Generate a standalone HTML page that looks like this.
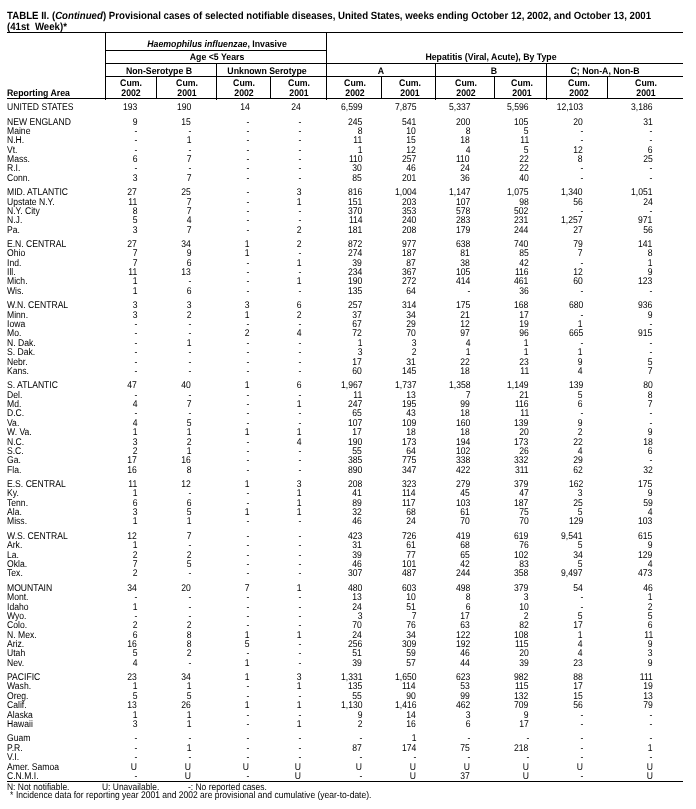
<!DOCTYPE html>
<html><head><meta charset="utf-8"><title>TABLE II</title>
<style>
html,body{margin:0;padding:0;background:#fff;}
body{width:696px;height:809px;position:relative;overflow:hidden;font-family:"Liberation Sans",sans-serif;color:#000;}
#pg{position:absolute;left:0;top:0;width:696px;height:809px;will-change:transform;}
.t{position:absolute;white-space:nowrap;line-height:14px;text-rendering:geometricPrecision;}
.r{position:absolute;left:0;width:696px;height:14px;}
.hl{position:absolute;height:1px;background:#000;}
.vl{position:absolute;width:1px;background:#000;}
.body{font-size:9.8px;font-weight:normal;}
.body.L{transform:scaleX(0.8776);transform-origin:0 50%;}
.body.R{transform:scaleX(0.8776);transform-origin:100% 50%;}
.body.C{transform:translateX(-50%) scaleX(0.8776);transform-origin:50% 50%;}
.f1{font-size:9.63px;font-weight:normal;}
.f1.L{transform:scaleX(0.8775);transform-origin:0 50%;}
.f1.R{transform:scaleX(0.8775);transform-origin:100% 50%;}
.f1.C{transform:translateX(-50%) scaleX(0.8775);transform-origin:50% 50%;}
.f2{font-size:9.71px;font-weight:normal;}
.f2.L{transform:scaleX(0.8774);transform-origin:0 50%;}
.f2.R{transform:scaleX(0.8774);transform-origin:100% 50%;}
.f2.C{transform:translateX(-50%) scaleX(0.8774);transform-origin:50% 50%;}
.hdr{font-size:9.5px;font-weight:bold;}
.hdr.L{transform:scaleX(0.9211);transform-origin:0 50%;}
.hdr.R{transform:scaleX(0.9211);transform-origin:100% 50%;}
.hdr.C{transform:translateX(-50%) scaleX(0.9211);transform-origin:50% 50%;}
.ttl{font-size:10.5px;font-weight:bold;}
.ttl.L{transform:scaleX(0.92);transform-origin:0 50%;}
.ttl.R{transform:scaleX(0.92);transform-origin:100% 50%;}
.ttl.C{transform:translateX(-50%) scaleX(0.92);transform-origin:50% 50%;}
</style></head><body><div id="pg">
<div class="t ttl L" style="left:7px;top:9px">TABLE II. (<i>Continued</i>) Provisional cases of selected notifiable diseases, United States, weeks ending October 12, 2002, and October 13, 2001</div>
<div class="t ttl L" style="left:7px;top:20px">(41st&nbsp; Week)*</div>
<div class="hl" style="top:32px;left:7px;width:676px"></div>
<div class="hl" style="top:50px;left:105px;width:222px"></div>
<div class="hl" style="top:63px;left:105px;width:578px"></div>
<div class="hl" style="top:76px;left:105px;width:578px"></div>
<div class="hl" style="top:98px;left:7px;width:676px"></div>
<div class="hl" style="top:781px;left:7px;width:676px"></div>
<div class="vl" style="left:105px;top:32px;height:68px"></div>
<div class="vl" style="left:156px;top:76px;height:22px"></div>
<div class="vl" style="left:216px;top:63px;height:37px"></div>
<div class="vl" style="left:270px;top:76px;height:22px"></div>
<div class="vl" style="left:326px;top:32px;height:68px"></div>
<div class="vl" style="left:381px;top:76px;height:22px"></div>
<div class="vl" style="left:435px;top:63px;height:37px"></div>
<div class="vl" style="left:494px;top:76px;height:22px"></div>
<div class="vl" style="left:546px;top:63px;height:37px"></div>
<div class="vl" style="left:607px;top:76px;height:22px"></div>
<div class="t hdr C" style="left:216.75px;top:38px"><i>Haemophilus influenzae</i>, Invasive</div>
<div class="t hdr C" style="left:216.5px;top:51px">Age &lt;5 Years</div>
<div class="t hdr C" style="left:158.75px;top:65px">Non-Serotype B</div>
<div class="t hdr C" style="left:267px;top:65px">Unknown Serotype</div>
<div class="t hdr C" style="left:490.75px;top:51px">Hepatitis (Viral, Acute), By Type</div>
<div class="t hdr C" style="left:381px;top:65px">A</div>
<div class="t hdr C" style="left:493.5px;top:65px">B</div>
<div class="t hdr C" style="left:605px;top:65px">C; Non-A, Non-B</div>
<div class="t hdr C" style="left:130.75px;top:77px">Cum.</div>
<div class="t hdr C" style="left:130.75px;top:87px">2002</div>
<div class="t hdr C" style="left:186.75px;top:77px">Cum.</div>
<div class="t hdr C" style="left:186.75px;top:87px">2001</div>
<div class="t hdr C" style="left:243.5px;top:77px">Cum.</div>
<div class="t hdr C" style="left:243.5px;top:87px">2002</div>
<div class="t hdr C" style="left:299.2px;top:77px">Cum.</div>
<div class="t hdr C" style="left:299.2px;top:87px">2001</div>
<div class="t hdr C" style="left:355.1px;top:77px">Cum.</div>
<div class="t hdr C" style="left:355.1px;top:87px">2002</div>
<div class="t hdr C" style="left:410.25px;top:77px">Cum.</div>
<div class="t hdr C" style="left:410.25px;top:87px">2001</div>
<div class="t hdr C" style="left:466px;top:77px">Cum.</div>
<div class="t hdr C" style="left:466px;top:87px">2002</div>
<div class="t hdr C" style="left:522.25px;top:77px">Cum.</div>
<div class="t hdr C" style="left:522.25px;top:87px">2001</div>
<div class="t hdr C" style="left:578.5px;top:77px">Cum.</div>
<div class="t hdr C" style="left:578.5px;top:87px">2002</div>
<div class="t hdr C" style="left:645.75px;top:77px">Cum.</div>
<div class="t hdr C" style="left:645.75px;top:87px">2001</div>
<div class="t hdr L" style="left:7px;top:87px">Reporting Area</div>
<div class="r" style="top:101px"><span class="t body L" style="left:7px;top:0">UNITED STATES</span><span class="t body R" style="right:559px;top:0">193</span><span class="t body R" style="right:505px;top:0">190</span><span class="t body R" style="right:446.6px;top:0">14</span><span class="t body R" style="right:395px;top:0">24</span><span class="t body R" style="right:333.7px;top:0">6,599</span><span class="t body R" style="right:279.9px;top:0">7,875</span><span class="t body R" style="right:225.9px;top:0">5,337</span><span class="t body R" style="right:167.2px;top:0">5,596</span><span class="t body R" style="right:113.1px;top:0">12,103</span><span class="t body R" style="right:43.3px;top:0">3,186</span></div>
<div class="r" style="top:116px"><span class="t body L" style="left:7px;top:0">NEW ENGLAND</span><span class="t body R" style="right:559px;top:0">9</span><span class="t body R" style="right:505px;top:0">15</span><span class="t body R" style="right:446.6px;top:0">-</span><span class="t body R" style="right:395px;top:0">-</span><span class="t body R" style="right:333.7px;top:0">245</span><span class="t body R" style="right:279.9px;top:0">541</span><span class="t body R" style="right:225.9px;top:0">200</span><span class="t body R" style="right:167.2px;top:0">105</span><span class="t body R" style="right:113.1px;top:0">20</span><span class="t body R" style="right:43.3px;top:0">31</span></div>
<div class="r" style="top:125px"><span class="t body L" style="left:7px;top:0">Maine</span><span class="t body R" style="right:559px;top:0">-</span><span class="t body R" style="right:505px;top:0">-</span><span class="t body R" style="right:446.6px;top:0">-</span><span class="t body R" style="right:395px;top:0">-</span><span class="t body R" style="right:333.7px;top:0">8</span><span class="t body R" style="right:279.9px;top:0">10</span><span class="t body R" style="right:225.9px;top:0">8</span><span class="t body R" style="right:167.2px;top:0">5</span><span class="t body R" style="right:113.1px;top:0">-</span><span class="t body R" style="right:43.3px;top:0">-</span></div>
<div class="r" style="top:134px"><span class="t body L" style="left:7px;top:0">N.H.</span><span class="t body R" style="right:559px;top:0">-</span><span class="t body R" style="right:505px;top:0">1</span><span class="t body R" style="right:446.6px;top:0">-</span><span class="t body R" style="right:395px;top:0">-</span><span class="t body R" style="right:333.7px;top:0">11</span><span class="t body R" style="right:279.9px;top:0">15</span><span class="t body R" style="right:225.9px;top:0">18</span><span class="t body R" style="right:167.2px;top:0">11</span><span class="t body R" style="right:113.1px;top:0">-</span><span class="t body R" style="right:43.3px;top:0">-</span></div>
<div class="r" style="top:144px"><span class="t body L" style="left:7px;top:0">Vt.</span><span class="t body R" style="right:559px;top:0">-</span><span class="t body R" style="right:505px;top:0">-</span><span class="t body R" style="right:446.6px;top:0">-</span><span class="t body R" style="right:395px;top:0">-</span><span class="t body R" style="right:333.7px;top:0">1</span><span class="t body R" style="right:279.9px;top:0">12</span><span class="t body R" style="right:225.9px;top:0">4</span><span class="t body R" style="right:167.2px;top:0">5</span><span class="t body R" style="right:113.1px;top:0">12</span><span class="t body R" style="right:43.3px;top:0">6</span></div>
<div class="r" style="top:153px"><span class="t body L" style="left:7px;top:0">Mass.</span><span class="t body R" style="right:559px;top:0">6</span><span class="t body R" style="right:505px;top:0">7</span><span class="t body R" style="right:446.6px;top:0">-</span><span class="t body R" style="right:395px;top:0">-</span><span class="t body R" style="right:333.7px;top:0">110</span><span class="t body R" style="right:279.9px;top:0">257</span><span class="t body R" style="right:225.9px;top:0">110</span><span class="t body R" style="right:167.2px;top:0">22</span><span class="t body R" style="right:113.1px;top:0">8</span><span class="t body R" style="right:43.3px;top:0">25</span></div>
<div class="r" style="top:162px"><span class="t body L" style="left:7px;top:0">R.I.</span><span class="t body R" style="right:559px;top:0">-</span><span class="t body R" style="right:505px;top:0">-</span><span class="t body R" style="right:446.6px;top:0">-</span><span class="t body R" style="right:395px;top:0">-</span><span class="t body R" style="right:333.7px;top:0">30</span><span class="t body R" style="right:279.9px;top:0">46</span><span class="t body R" style="right:225.9px;top:0">24</span><span class="t body R" style="right:167.2px;top:0">22</span><span class="t body R" style="right:113.1px;top:0">-</span><span class="t body R" style="right:43.3px;top:0">-</span></div>
<div class="r" style="top:172px"><span class="t body L" style="left:7px;top:0">Conn.</span><span class="t body R" style="right:559px;top:0">3</span><span class="t body R" style="right:505px;top:0">7</span><span class="t body R" style="right:446.6px;top:0">-</span><span class="t body R" style="right:395px;top:0">-</span><span class="t body R" style="right:333.7px;top:0">85</span><span class="t body R" style="right:279.9px;top:0">201</span><span class="t body R" style="right:225.9px;top:0">36</span><span class="t body R" style="right:167.2px;top:0">40</span><span class="t body R" style="right:113.1px;top:0">-</span><span class="t body R" style="right:43.3px;top:0">-</span></div>
<div class="r" style="top:186px"><span class="t body L" style="left:7px;top:0">MID. ATLANTIC</span><span class="t body R" style="right:559px;top:0">27</span><span class="t body R" style="right:505px;top:0">25</span><span class="t body R" style="right:446.6px;top:0">-</span><span class="t body R" style="right:395px;top:0">3</span><span class="t body R" style="right:333.7px;top:0">816</span><span class="t body R" style="right:279.9px;top:0">1,004</span><span class="t body R" style="right:225.9px;top:0">1,147</span><span class="t body R" style="right:167.2px;top:0">1,075</span><span class="t body R" style="right:113.1px;top:0">1,340</span><span class="t body R" style="right:43.3px;top:0">1,051</span></div>
<div class="r" style="top:196px"><span class="t body L" style="left:7px;top:0">Upstate N.Y.</span><span class="t body R" style="right:559px;top:0">11</span><span class="t body R" style="right:505px;top:0">7</span><span class="t body R" style="right:446.6px;top:0">-</span><span class="t body R" style="right:395px;top:0">1</span><span class="t body R" style="right:333.7px;top:0">151</span><span class="t body R" style="right:279.9px;top:0">203</span><span class="t body R" style="right:225.9px;top:0">107</span><span class="t body R" style="right:167.2px;top:0">98</span><span class="t body R" style="right:113.1px;top:0">56</span><span class="t body R" style="right:43.3px;top:0">24</span></div>
<div class="r" style="top:205px"><span class="t body L" style="left:7px;top:0">N.Y. City</span><span class="t body R" style="right:559px;top:0">8</span><span class="t body R" style="right:505px;top:0">7</span><span class="t body R" style="right:446.6px;top:0">-</span><span class="t body R" style="right:395px;top:0">-</span><span class="t body R" style="right:333.7px;top:0">370</span><span class="t body R" style="right:279.9px;top:0">353</span><span class="t body R" style="right:225.9px;top:0">578</span><span class="t body R" style="right:167.2px;top:0">502</span><span class="t body R" style="right:113.1px;top:0">-</span><span class="t body R" style="right:43.3px;top:0">-</span></div>
<div class="r" style="top:214px"><span class="t body L" style="left:7px;top:0">N.J.</span><span class="t body R" style="right:559px;top:0">5</span><span class="t body R" style="right:505px;top:0">4</span><span class="t body R" style="right:446.6px;top:0">-</span><span class="t body R" style="right:395px;top:0">-</span><span class="t body R" style="right:333.7px;top:0">114</span><span class="t body R" style="right:279.9px;top:0">240</span><span class="t body R" style="right:225.9px;top:0">283</span><span class="t body R" style="right:167.2px;top:0">231</span><span class="t body R" style="right:113.1px;top:0">1,257</span><span class="t body R" style="right:43.3px;top:0">971</span></div>
<div class="r" style="top:224px"><span class="t body L" style="left:7px;top:0">Pa.</span><span class="t body R" style="right:559px;top:0">3</span><span class="t body R" style="right:505px;top:0">7</span><span class="t body R" style="right:446.6px;top:0">-</span><span class="t body R" style="right:395px;top:0">2</span><span class="t body R" style="right:333.7px;top:0">181</span><span class="t body R" style="right:279.9px;top:0">208</span><span class="t body R" style="right:225.9px;top:0">179</span><span class="t body R" style="right:167.2px;top:0">244</span><span class="t body R" style="right:113.1px;top:0">27</span><span class="t body R" style="right:43.3px;top:0">56</span></div>
<div class="r" style="top:238px"><span class="t body L" style="left:7px;top:0">E.N. CENTRAL</span><span class="t body R" style="right:559px;top:0">27</span><span class="t body R" style="right:505px;top:0">34</span><span class="t body R" style="right:446.6px;top:0">1</span><span class="t body R" style="right:395px;top:0">2</span><span class="t body R" style="right:333.7px;top:0">872</span><span class="t body R" style="right:279.9px;top:0">977</span><span class="t body R" style="right:225.9px;top:0">638</span><span class="t body R" style="right:167.2px;top:0">740</span><span class="t body R" style="right:113.1px;top:0">79</span><span class="t body R" style="right:43.3px;top:0">141</span></div>
<div class="r" style="top:247px"><span class="t body L" style="left:7px;top:0">Ohio</span><span class="t body R" style="right:559px;top:0">7</span><span class="t body R" style="right:505px;top:0">9</span><span class="t body R" style="right:446.6px;top:0">1</span><span class="t body R" style="right:395px;top:0">-</span><span class="t body R" style="right:333.7px;top:0">274</span><span class="t body R" style="right:279.9px;top:0">187</span><span class="t body R" style="right:225.9px;top:0">81</span><span class="t body R" style="right:167.2px;top:0">85</span><span class="t body R" style="right:113.1px;top:0">7</span><span class="t body R" style="right:43.3px;top:0">8</span></div>
<div class="r" style="top:257px"><span class="t body L" style="left:7px;top:0">Ind.</span><span class="t body R" style="right:559px;top:0">7</span><span class="t body R" style="right:505px;top:0">6</span><span class="t body R" style="right:446.6px;top:0">-</span><span class="t body R" style="right:395px;top:0">1</span><span class="t body R" style="right:333.7px;top:0">39</span><span class="t body R" style="right:279.9px;top:0">87</span><span class="t body R" style="right:225.9px;top:0">38</span><span class="t body R" style="right:167.2px;top:0">42</span><span class="t body R" style="right:113.1px;top:0">-</span><span class="t body R" style="right:43.3px;top:0">1</span></div>
<div class="r" style="top:266px"><span class="t body L" style="left:7px;top:0">Ill.</span><span class="t body R" style="right:559px;top:0">11</span><span class="t body R" style="right:505px;top:0">13</span><span class="t body R" style="right:446.6px;top:0">-</span><span class="t body R" style="right:395px;top:0">-</span><span class="t body R" style="right:333.7px;top:0">234</span><span class="t body R" style="right:279.9px;top:0">367</span><span class="t body R" style="right:225.9px;top:0">105</span><span class="t body R" style="right:167.2px;top:0">116</span><span class="t body R" style="right:113.1px;top:0">12</span><span class="t body R" style="right:43.3px;top:0">9</span></div>
<div class="r" style="top:275px"><span class="t body L" style="left:7px;top:0">Mich.</span><span class="t body R" style="right:559px;top:0">1</span><span class="t body R" style="right:505px;top:0">-</span><span class="t body R" style="right:446.6px;top:0">-</span><span class="t body R" style="right:395px;top:0">1</span><span class="t body R" style="right:333.7px;top:0">190</span><span class="t body R" style="right:279.9px;top:0">272</span><span class="t body R" style="right:225.9px;top:0">414</span><span class="t body R" style="right:167.2px;top:0">461</span><span class="t body R" style="right:113.1px;top:0">60</span><span class="t body R" style="right:43.3px;top:0">123</span></div>
<div class="r" style="top:285px"><span class="t body L" style="left:7px;top:0">Wis.</span><span class="t body R" style="right:559px;top:0">1</span><span class="t body R" style="right:505px;top:0">6</span><span class="t body R" style="right:446.6px;top:0">-</span><span class="t body R" style="right:395px;top:0">-</span><span class="t body R" style="right:333.7px;top:0">135</span><span class="t body R" style="right:279.9px;top:0">64</span><span class="t body R" style="right:225.9px;top:0">-</span><span class="t body R" style="right:167.2px;top:0">36</span><span class="t body R" style="right:113.1px;top:0">-</span><span class="t body R" style="right:43.3px;top:0">-</span></div>
<div class="r" style="top:299px"><span class="t body L" style="left:7px;top:0">W.N. CENTRAL</span><span class="t body R" style="right:559px;top:0">3</span><span class="t body R" style="right:505px;top:0">3</span><span class="t body R" style="right:446.6px;top:0">3</span><span class="t body R" style="right:395px;top:0">6</span><span class="t body R" style="right:333.7px;top:0">257</span><span class="t body R" style="right:279.9px;top:0">314</span><span class="t body R" style="right:225.9px;top:0">175</span><span class="t body R" style="right:167.2px;top:0">168</span><span class="t body R" style="right:113.1px;top:0">680</span><span class="t body R" style="right:43.3px;top:0">936</span></div>
<div class="r" style="top:309px"><span class="t body L" style="left:7px;top:0">Minn.</span><span class="t body R" style="right:559px;top:0">3</span><span class="t body R" style="right:505px;top:0">2</span><span class="t body R" style="right:446.6px;top:0">1</span><span class="t body R" style="right:395px;top:0">2</span><span class="t body R" style="right:333.7px;top:0">37</span><span class="t body R" style="right:279.9px;top:0">34</span><span class="t body R" style="right:225.9px;top:0">21</span><span class="t body R" style="right:167.2px;top:0">17</span><span class="t body R" style="right:113.1px;top:0">-</span><span class="t body R" style="right:43.3px;top:0">9</span></div>
<div class="r" style="top:318px"><span class="t body L" style="left:7px;top:0">Iowa</span><span class="t body R" style="right:559px;top:0">-</span><span class="t body R" style="right:505px;top:0">-</span><span class="t body R" style="right:446.6px;top:0">-</span><span class="t body R" style="right:395px;top:0">-</span><span class="t body R" style="right:333.7px;top:0">67</span><span class="t body R" style="right:279.9px;top:0">29</span><span class="t body R" style="right:225.9px;top:0">12</span><span class="t body R" style="right:167.2px;top:0">19</span><span class="t body R" style="right:113.1px;top:0">1</span><span class="t body R" style="right:43.3px;top:0">-</span></div>
<div class="r" style="top:327px"><span class="t body L" style="left:7px;top:0">Mo.</span><span class="t body R" style="right:559px;top:0">-</span><span class="t body R" style="right:505px;top:0">-</span><span class="t body R" style="right:446.6px;top:0">2</span><span class="t body R" style="right:395px;top:0">4</span><span class="t body R" style="right:333.7px;top:0">72</span><span class="t body R" style="right:279.9px;top:0">70</span><span class="t body R" style="right:225.9px;top:0">97</span><span class="t body R" style="right:167.2px;top:0">96</span><span class="t body R" style="right:113.1px;top:0">665</span><span class="t body R" style="right:43.3px;top:0">915</span></div>
<div class="r" style="top:337px"><span class="t body L" style="left:7px;top:0">N. Dak.</span><span class="t body R" style="right:559px;top:0">-</span><span class="t body R" style="right:505px;top:0">1</span><span class="t body R" style="right:446.6px;top:0">-</span><span class="t body R" style="right:395px;top:0">-</span><span class="t body R" style="right:333.7px;top:0">1</span><span class="t body R" style="right:279.9px;top:0">3</span><span class="t body R" style="right:225.9px;top:0">4</span><span class="t body R" style="right:167.2px;top:0">1</span><span class="t body R" style="right:113.1px;top:0">-</span><span class="t body R" style="right:43.3px;top:0">-</span></div>
<div class="r" style="top:346px"><span class="t body L" style="left:7px;top:0">S. Dak.</span><span class="t body R" style="right:559px;top:0">-</span><span class="t body R" style="right:505px;top:0">-</span><span class="t body R" style="right:446.6px;top:0">-</span><span class="t body R" style="right:395px;top:0">-</span><span class="t body R" style="right:333.7px;top:0">3</span><span class="t body R" style="right:279.9px;top:0">2</span><span class="t body R" style="right:225.9px;top:0">1</span><span class="t body R" style="right:167.2px;top:0">1</span><span class="t body R" style="right:113.1px;top:0">1</span><span class="t body R" style="right:43.3px;top:0">-</span></div>
<div class="r" style="top:356px"><span class="t body L" style="left:7px;top:0">Nebr.</span><span class="t body R" style="right:559px;top:0">-</span><span class="t body R" style="right:505px;top:0">-</span><span class="t body R" style="right:446.6px;top:0">-</span><span class="t body R" style="right:395px;top:0">-</span><span class="t body R" style="right:333.7px;top:0">17</span><span class="t body R" style="right:279.9px;top:0">31</span><span class="t body R" style="right:225.9px;top:0">22</span><span class="t body R" style="right:167.2px;top:0">23</span><span class="t body R" style="right:113.1px;top:0">9</span><span class="t body R" style="right:43.3px;top:0">5</span></div>
<div class="r" style="top:365px"><span class="t body L" style="left:7px;top:0">Kans.</span><span class="t body R" style="right:559px;top:0">-</span><span class="t body R" style="right:505px;top:0">-</span><span class="t body R" style="right:446.6px;top:0">-</span><span class="t body R" style="right:395px;top:0">-</span><span class="t body R" style="right:333.7px;top:0">60</span><span class="t body R" style="right:279.9px;top:0">145</span><span class="t body R" style="right:225.9px;top:0">18</span><span class="t body R" style="right:167.2px;top:0">11</span><span class="t body R" style="right:113.1px;top:0">4</span><span class="t body R" style="right:43.3px;top:0">7</span></div>
<div class="r" style="top:379px"><span class="t body L" style="left:7px;top:0">S. ATLANTIC</span><span class="t body R" style="right:559px;top:0">47</span><span class="t body R" style="right:505px;top:0">40</span><span class="t body R" style="right:446.6px;top:0">1</span><span class="t body R" style="right:395px;top:0">6</span><span class="t body R" style="right:333.7px;top:0">1,967</span><span class="t body R" style="right:279.9px;top:0">1,737</span><span class="t body R" style="right:225.9px;top:0">1,358</span><span class="t body R" style="right:167.2px;top:0">1,149</span><span class="t body R" style="right:113.1px;top:0">139</span><span class="t body R" style="right:43.3px;top:0">80</span></div>
<div class="r" style="top:389px"><span class="t body L" style="left:7px;top:0">Del.</span><span class="t body R" style="right:559px;top:0">-</span><span class="t body R" style="right:505px;top:0">-</span><span class="t body R" style="right:446.6px;top:0">-</span><span class="t body R" style="right:395px;top:0">-</span><span class="t body R" style="right:333.7px;top:0">11</span><span class="t body R" style="right:279.9px;top:0">13</span><span class="t body R" style="right:225.9px;top:0">7</span><span class="t body R" style="right:167.2px;top:0">21</span><span class="t body R" style="right:113.1px;top:0">5</span><span class="t body R" style="right:43.3px;top:0">8</span></div>
<div class="r" style="top:398px"><span class="t body L" style="left:7px;top:0">Md.</span><span class="t body R" style="right:559px;top:0">4</span><span class="t body R" style="right:505px;top:0">7</span><span class="t body R" style="right:446.6px;top:0">-</span><span class="t body R" style="right:395px;top:0">1</span><span class="t body R" style="right:333.7px;top:0">247</span><span class="t body R" style="right:279.9px;top:0">195</span><span class="t body R" style="right:225.9px;top:0">99</span><span class="t body R" style="right:167.2px;top:0">116</span><span class="t body R" style="right:113.1px;top:0">6</span><span class="t body R" style="right:43.3px;top:0">7</span></div>
<div class="r" style="top:407px"><span class="t body L" style="left:7px;top:0">D.C.</span><span class="t body R" style="right:559px;top:0">-</span><span class="t body R" style="right:505px;top:0">-</span><span class="t body R" style="right:446.6px;top:0">-</span><span class="t body R" style="right:395px;top:0">-</span><span class="t body R" style="right:333.7px;top:0">65</span><span class="t body R" style="right:279.9px;top:0">43</span><span class="t body R" style="right:225.9px;top:0">18</span><span class="t body R" style="right:167.2px;top:0">11</span><span class="t body R" style="right:113.1px;top:0">-</span><span class="t body R" style="right:43.3px;top:0">-</span></div>
<div class="r" style="top:417px"><span class="t body L" style="left:7px;top:0">Va.</span><span class="t body R" style="right:559px;top:0">4</span><span class="t body R" style="right:505px;top:0">5</span><span class="t body R" style="right:446.6px;top:0">-</span><span class="t body R" style="right:395px;top:0">-</span><span class="t body R" style="right:333.7px;top:0">107</span><span class="t body R" style="right:279.9px;top:0">109</span><span class="t body R" style="right:225.9px;top:0">160</span><span class="t body R" style="right:167.2px;top:0">139</span><span class="t body R" style="right:113.1px;top:0">9</span><span class="t body R" style="right:43.3px;top:0">-</span></div>
<div class="r" style="top:426px"><span class="t body L" style="left:7px;top:0">W. Va.</span><span class="t body R" style="right:559px;top:0">1</span><span class="t body R" style="right:505px;top:0">1</span><span class="t body R" style="right:446.6px;top:0">1</span><span class="t body R" style="right:395px;top:0">1</span><span class="t body R" style="right:333.7px;top:0">17</span><span class="t body R" style="right:279.9px;top:0">18</span><span class="t body R" style="right:225.9px;top:0">18</span><span class="t body R" style="right:167.2px;top:0">20</span><span class="t body R" style="right:113.1px;top:0">2</span><span class="t body R" style="right:43.3px;top:0">9</span></div>
<div class="r" style="top:436px"><span class="t body L" style="left:7px;top:0">N.C.</span><span class="t body R" style="right:559px;top:0">3</span><span class="t body R" style="right:505px;top:0">2</span><span class="t body R" style="right:446.6px;top:0">-</span><span class="t body R" style="right:395px;top:0">4</span><span class="t body R" style="right:333.7px;top:0">190</span><span class="t body R" style="right:279.9px;top:0">173</span><span class="t body R" style="right:225.9px;top:0">194</span><span class="t body R" style="right:167.2px;top:0">173</span><span class="t body R" style="right:113.1px;top:0">22</span><span class="t body R" style="right:43.3px;top:0">18</span></div>
<div class="r" style="top:445px"><span class="t body L" style="left:7px;top:0">S.C.</span><span class="t body R" style="right:559px;top:0">2</span><span class="t body R" style="right:505px;top:0">1</span><span class="t body R" style="right:446.6px;top:0">-</span><span class="t body R" style="right:395px;top:0">-</span><span class="t body R" style="right:333.7px;top:0">55</span><span class="t body R" style="right:279.9px;top:0">64</span><span class="t body R" style="right:225.9px;top:0">102</span><span class="t body R" style="right:167.2px;top:0">26</span><span class="t body R" style="right:113.1px;top:0">4</span><span class="t body R" style="right:43.3px;top:0">6</span></div>
<div class="r" style="top:454px"><span class="t body L" style="left:7px;top:0">Ga.</span><span class="t body R" style="right:559px;top:0">17</span><span class="t body R" style="right:505px;top:0">16</span><span class="t body R" style="right:446.6px;top:0">-</span><span class="t body R" style="right:395px;top:0">-</span><span class="t body R" style="right:333.7px;top:0">385</span><span class="t body R" style="right:279.9px;top:0">775</span><span class="t body R" style="right:225.9px;top:0">338</span><span class="t body R" style="right:167.2px;top:0">332</span><span class="t body R" style="right:113.1px;top:0">29</span><span class="t body R" style="right:43.3px;top:0">-</span></div>
<div class="r" style="top:464px"><span class="t body L" style="left:7px;top:0">Fla.</span><span class="t body R" style="right:559px;top:0">16</span><span class="t body R" style="right:505px;top:0">8</span><span class="t body R" style="right:446.6px;top:0">-</span><span class="t body R" style="right:395px;top:0">-</span><span class="t body R" style="right:333.7px;top:0">890</span><span class="t body R" style="right:279.9px;top:0">347</span><span class="t body R" style="right:225.9px;top:0">422</span><span class="t body R" style="right:167.2px;top:0">311</span><span class="t body R" style="right:113.1px;top:0">62</span><span class="t body R" style="right:43.3px;top:0">32</span></div>
<div class="r" style="top:478px"><span class="t body L" style="left:7px;top:0">E.S. CENTRAL</span><span class="t body R" style="right:559px;top:0">11</span><span class="t body R" style="right:505px;top:0">12</span><span class="t body R" style="right:446.6px;top:0">1</span><span class="t body R" style="right:395px;top:0">3</span><span class="t body R" style="right:333.7px;top:0">208</span><span class="t body R" style="right:279.9px;top:0">323</span><span class="t body R" style="right:225.9px;top:0">279</span><span class="t body R" style="right:167.2px;top:0">379</span><span class="t body R" style="right:113.1px;top:0">162</span><span class="t body R" style="right:43.3px;top:0">175</span></div>
<div class="r" style="top:487px"><span class="t body L" style="left:7px;top:0">Ky.</span><span class="t body R" style="right:559px;top:0">1</span><span class="t body R" style="right:505px;top:0">-</span><span class="t body R" style="right:446.6px;top:0">-</span><span class="t body R" style="right:395px;top:0">1</span><span class="t body R" style="right:333.7px;top:0">41</span><span class="t body R" style="right:279.9px;top:0">114</span><span class="t body R" style="right:225.9px;top:0">45</span><span class="t body R" style="right:167.2px;top:0">47</span><span class="t body R" style="right:113.1px;top:0">3</span><span class="t body R" style="right:43.3px;top:0">9</span></div>
<div class="r" style="top:497px"><span class="t body L" style="left:7px;top:0">Tenn.</span><span class="t body R" style="right:559px;top:0">6</span><span class="t body R" style="right:505px;top:0">6</span><span class="t body R" style="right:446.6px;top:0">-</span><span class="t body R" style="right:395px;top:0">1</span><span class="t body R" style="right:333.7px;top:0">89</span><span class="t body R" style="right:279.9px;top:0">117</span><span class="t body R" style="right:225.9px;top:0">103</span><span class="t body R" style="right:167.2px;top:0">187</span><span class="t body R" style="right:113.1px;top:0">25</span><span class="t body R" style="right:43.3px;top:0">59</span></div>
<div class="r" style="top:506px"><span class="t body L" style="left:7px;top:0">Ala.</span><span class="t body R" style="right:559px;top:0">3</span><span class="t body R" style="right:505px;top:0">5</span><span class="t body R" style="right:446.6px;top:0">1</span><span class="t body R" style="right:395px;top:0">1</span><span class="t body R" style="right:333.7px;top:0">32</span><span class="t body R" style="right:279.9px;top:0">68</span><span class="t body R" style="right:225.9px;top:0">61</span><span class="t body R" style="right:167.2px;top:0">75</span><span class="t body R" style="right:113.1px;top:0">5</span><span class="t body R" style="right:43.3px;top:0">4</span></div>
<div class="r" style="top:515px"><span class="t body L" style="left:7px;top:0">Miss.</span><span class="t body R" style="right:559px;top:0">1</span><span class="t body R" style="right:505px;top:0">1</span><span class="t body R" style="right:446.6px;top:0">-</span><span class="t body R" style="right:395px;top:0">-</span><span class="t body R" style="right:333.7px;top:0">46</span><span class="t body R" style="right:279.9px;top:0">24</span><span class="t body R" style="right:225.9px;top:0">70</span><span class="t body R" style="right:167.2px;top:0">70</span><span class="t body R" style="right:113.1px;top:0">129</span><span class="t body R" style="right:43.3px;top:0">103</span></div>
<div class="r" style="top:530px"><span class="t body L" style="left:7px;top:0">W.S. CENTRAL</span><span class="t body R" style="right:559px;top:0">12</span><span class="t body R" style="right:505px;top:0">7</span><span class="t body R" style="right:446.6px;top:0">-</span><span class="t body R" style="right:395px;top:0">-</span><span class="t body R" style="right:333.7px;top:0">423</span><span class="t body R" style="right:279.9px;top:0">726</span><span class="t body R" style="right:225.9px;top:0">419</span><span class="t body R" style="right:167.2px;top:0">619</span><span class="t body R" style="right:113.1px;top:0">9,541</span><span class="t body R" style="right:43.3px;top:0">615</span></div>
<div class="r" style="top:539px"><span class="t body L" style="left:7px;top:0">Ark.</span><span class="t body R" style="right:559px;top:0">1</span><span class="t body R" style="right:505px;top:0">-</span><span class="t body R" style="right:446.6px;top:0">-</span><span class="t body R" style="right:395px;top:0">-</span><span class="t body R" style="right:333.7px;top:0">31</span><span class="t body R" style="right:279.9px;top:0">61</span><span class="t body R" style="right:225.9px;top:0">68</span><span class="t body R" style="right:167.2px;top:0">76</span><span class="t body R" style="right:113.1px;top:0">5</span><span class="t body R" style="right:43.3px;top:0">9</span></div>
<div class="r" style="top:549px"><span class="t body L" style="left:7px;top:0">La.</span><span class="t body R" style="right:559px;top:0">2</span><span class="t body R" style="right:505px;top:0">2</span><span class="t body R" style="right:446.6px;top:0">-</span><span class="t body R" style="right:395px;top:0">-</span><span class="t body R" style="right:333.7px;top:0">39</span><span class="t body R" style="right:279.9px;top:0">77</span><span class="t body R" style="right:225.9px;top:0">65</span><span class="t body R" style="right:167.2px;top:0">102</span><span class="t body R" style="right:113.1px;top:0">34</span><span class="t body R" style="right:43.3px;top:0">129</span></div>
<div class="r" style="top:558px"><span class="t body L" style="left:7px;top:0">Okla.</span><span class="t body R" style="right:559px;top:0">7</span><span class="t body R" style="right:505px;top:0">5</span><span class="t body R" style="right:446.6px;top:0">-</span><span class="t body R" style="right:395px;top:0">-</span><span class="t body R" style="right:333.7px;top:0">46</span><span class="t body R" style="right:279.9px;top:0">101</span><span class="t body R" style="right:225.9px;top:0">42</span><span class="t body R" style="right:167.2px;top:0">83</span><span class="t body R" style="right:113.1px;top:0">5</span><span class="t body R" style="right:43.3px;top:0">4</span></div>
<div class="r" style="top:567px"><span class="t body L" style="left:7px;top:0">Tex.</span><span class="t body R" style="right:559px;top:0">2</span><span class="t body R" style="right:505px;top:0">-</span><span class="t body R" style="right:446.6px;top:0">-</span><span class="t body R" style="right:395px;top:0">-</span><span class="t body R" style="right:333.7px;top:0">307</span><span class="t body R" style="right:279.9px;top:0">487</span><span class="t body R" style="right:225.9px;top:0">244</span><span class="t body R" style="right:167.2px;top:0">358</span><span class="t body R" style="right:113.1px;top:0">9,497</span><span class="t body R" style="right:43.3px;top:0">473</span></div>
<div class="r" style="top:582px"><span class="t body L" style="left:7px;top:0">MOUNTAIN</span><span class="t body R" style="right:559px;top:0">34</span><span class="t body R" style="right:505px;top:0">20</span><span class="t body R" style="right:446.6px;top:0">7</span><span class="t body R" style="right:395px;top:0">1</span><span class="t body R" style="right:333.7px;top:0">480</span><span class="t body R" style="right:279.9px;top:0">603</span><span class="t body R" style="right:225.9px;top:0">498</span><span class="t body R" style="right:167.2px;top:0">379</span><span class="t body R" style="right:113.1px;top:0">54</span><span class="t body R" style="right:43.3px;top:0">46</span></div>
<div class="r" style="top:591px"><span class="t body L" style="left:7px;top:0">Mont.</span><span class="t body R" style="right:559px;top:0">-</span><span class="t body R" style="right:505px;top:0">-</span><span class="t body R" style="right:446.6px;top:0">-</span><span class="t body R" style="right:395px;top:0">-</span><span class="t body R" style="right:333.7px;top:0">13</span><span class="t body R" style="right:279.9px;top:0">10</span><span class="t body R" style="right:225.9px;top:0">8</span><span class="t body R" style="right:167.2px;top:0">3</span><span class="t body R" style="right:113.1px;top:0">-</span><span class="t body R" style="right:43.3px;top:0">1</span></div>
<div class="r" style="top:601px"><span class="t body L" style="left:7px;top:0">Idaho</span><span class="t body R" style="right:559px;top:0">1</span><span class="t body R" style="right:505px;top:0">-</span><span class="t body R" style="right:446.6px;top:0">-</span><span class="t body R" style="right:395px;top:0">-</span><span class="t body R" style="right:333.7px;top:0">24</span><span class="t body R" style="right:279.9px;top:0">51</span><span class="t body R" style="right:225.9px;top:0">6</span><span class="t body R" style="right:167.2px;top:0">10</span><span class="t body R" style="right:113.1px;top:0">-</span><span class="t body R" style="right:43.3px;top:0">2</span></div>
<div class="r" style="top:610px"><span class="t body L" style="left:7px;top:0">Wyo.</span><span class="t body R" style="right:559px;top:0">-</span><span class="t body R" style="right:505px;top:0">-</span><span class="t body R" style="right:446.6px;top:0">-</span><span class="t body R" style="right:395px;top:0">-</span><span class="t body R" style="right:333.7px;top:0">3</span><span class="t body R" style="right:279.9px;top:0">7</span><span class="t body R" style="right:225.9px;top:0">17</span><span class="t body R" style="right:167.2px;top:0">2</span><span class="t body R" style="right:113.1px;top:0">5</span><span class="t body R" style="right:43.3px;top:0">5</span></div>
<div class="r" style="top:619px"><span class="t body L" style="left:7px;top:0">Colo.</span><span class="t body R" style="right:559px;top:0">2</span><span class="t body R" style="right:505px;top:0">2</span><span class="t body R" style="right:446.6px;top:0">-</span><span class="t body R" style="right:395px;top:0">-</span><span class="t body R" style="right:333.7px;top:0">70</span><span class="t body R" style="right:279.9px;top:0">76</span><span class="t body R" style="right:225.9px;top:0">63</span><span class="t body R" style="right:167.2px;top:0">82</span><span class="t body R" style="right:113.1px;top:0">17</span><span class="t body R" style="right:43.3px;top:0">6</span></div>
<div class="r" style="top:629px"><span class="t body L" style="left:7px;top:0">N. Mex.</span><span class="t body R" style="right:559px;top:0">6</span><span class="t body R" style="right:505px;top:0">8</span><span class="t body R" style="right:446.6px;top:0">1</span><span class="t body R" style="right:395px;top:0">1</span><span class="t body R" style="right:333.7px;top:0">24</span><span class="t body R" style="right:279.9px;top:0">34</span><span class="t body R" style="right:225.9px;top:0">122</span><span class="t body R" style="right:167.2px;top:0">108</span><span class="t body R" style="right:113.1px;top:0">1</span><span class="t body R" style="right:43.3px;top:0">11</span></div>
<div class="r" style="top:638px"><span class="t body L" style="left:7px;top:0">Ariz.</span><span class="t body R" style="right:559px;top:0">16</span><span class="t body R" style="right:505px;top:0">8</span><span class="t body R" style="right:446.6px;top:0">5</span><span class="t body R" style="right:395px;top:0">-</span><span class="t body R" style="right:333.7px;top:0">256</span><span class="t body R" style="right:279.9px;top:0">309</span><span class="t body R" style="right:225.9px;top:0">192</span><span class="t body R" style="right:167.2px;top:0">115</span><span class="t body R" style="right:113.1px;top:0">4</span><span class="t body R" style="right:43.3px;top:0">9</span></div>
<div class="r" style="top:647px"><span class="t body L" style="left:7px;top:0">Utah</span><span class="t body R" style="right:559px;top:0">5</span><span class="t body R" style="right:505px;top:0">2</span><span class="t body R" style="right:446.6px;top:0">-</span><span class="t body R" style="right:395px;top:0">-</span><span class="t body R" style="right:333.7px;top:0">51</span><span class="t body R" style="right:279.9px;top:0">59</span><span class="t body R" style="right:225.9px;top:0">46</span><span class="t body R" style="right:167.2px;top:0">20</span><span class="t body R" style="right:113.1px;top:0">4</span><span class="t body R" style="right:43.3px;top:0">3</span></div>
<div class="r" style="top:657px"><span class="t body L" style="left:7px;top:0">Nev.</span><span class="t body R" style="right:559px;top:0">4</span><span class="t body R" style="right:505px;top:0">-</span><span class="t body R" style="right:446.6px;top:0">1</span><span class="t body R" style="right:395px;top:0">-</span><span class="t body R" style="right:333.7px;top:0">39</span><span class="t body R" style="right:279.9px;top:0">57</span><span class="t body R" style="right:225.9px;top:0">44</span><span class="t body R" style="right:167.2px;top:0">39</span><span class="t body R" style="right:113.1px;top:0">23</span><span class="t body R" style="right:43.3px;top:0">9</span></div>
<div class="r" style="top:671px"><span class="t body L" style="left:7px;top:0">PACIFIC</span><span class="t body R" style="right:559px;top:0">23</span><span class="t body R" style="right:505px;top:0">34</span><span class="t body R" style="right:446.6px;top:0">1</span><span class="t body R" style="right:395px;top:0">3</span><span class="t body R" style="right:333.7px;top:0">1,331</span><span class="t body R" style="right:279.9px;top:0">1,650</span><span class="t body R" style="right:225.9px;top:0">623</span><span class="t body R" style="right:167.2px;top:0">982</span><span class="t body R" style="right:113.1px;top:0">88</span><span class="t body R" style="right:43.3px;top:0">111</span></div>
<div class="r" style="top:680px"><span class="t body L" style="left:7px;top:0">Wash.</span><span class="t body R" style="right:559px;top:0">1</span><span class="t body R" style="right:505px;top:0">1</span><span class="t body R" style="right:446.6px;top:0">-</span><span class="t body R" style="right:395px;top:0">1</span><span class="t body R" style="right:333.7px;top:0">135</span><span class="t body R" style="right:279.9px;top:0">114</span><span class="t body R" style="right:225.9px;top:0">53</span><span class="t body R" style="right:167.2px;top:0">115</span><span class="t body R" style="right:113.1px;top:0">17</span><span class="t body R" style="right:43.3px;top:0">19</span></div>
<div class="r" style="top:690px"><span class="t body L" style="left:7px;top:0">Oreg.</span><span class="t body R" style="right:559px;top:0">5</span><span class="t body R" style="right:505px;top:0">5</span><span class="t body R" style="right:446.6px;top:0">-</span><span class="t body R" style="right:395px;top:0">-</span><span class="t body R" style="right:333.7px;top:0">55</span><span class="t body R" style="right:279.9px;top:0">90</span><span class="t body R" style="right:225.9px;top:0">99</span><span class="t body R" style="right:167.2px;top:0">132</span><span class="t body R" style="right:113.1px;top:0">15</span><span class="t body R" style="right:43.3px;top:0">13</span></div>
<div class="r" style="top:699px"><span class="t body L" style="left:7px;top:0">Calif.</span><span class="t body R" style="right:559px;top:0">13</span><span class="t body R" style="right:505px;top:0">26</span><span class="t body R" style="right:446.6px;top:0">1</span><span class="t body R" style="right:395px;top:0">1</span><span class="t body R" style="right:333.7px;top:0">1,130</span><span class="t body R" style="right:279.9px;top:0">1,416</span><span class="t body R" style="right:225.9px;top:0">462</span><span class="t body R" style="right:167.2px;top:0">709</span><span class="t body R" style="right:113.1px;top:0">56</span><span class="t body R" style="right:43.3px;top:0">79</span></div>
<div class="r" style="top:709px"><span class="t body L" style="left:7px;top:0">Alaska</span><span class="t body R" style="right:559px;top:0">1</span><span class="t body R" style="right:505px;top:0">1</span><span class="t body R" style="right:446.6px;top:0">-</span><span class="t body R" style="right:395px;top:0">-</span><span class="t body R" style="right:333.7px;top:0">9</span><span class="t body R" style="right:279.9px;top:0">14</span><span class="t body R" style="right:225.9px;top:0">3</span><span class="t body R" style="right:167.2px;top:0">9</span><span class="t body R" style="right:113.1px;top:0">-</span><span class="t body R" style="right:43.3px;top:0">-</span></div>
<div class="r" style="top:718px"><span class="t body L" style="left:7px;top:0">Hawaii</span><span class="t body R" style="right:559px;top:0">3</span><span class="t body R" style="right:505px;top:0">1</span><span class="t body R" style="right:446.6px;top:0">-</span><span class="t body R" style="right:395px;top:0">1</span><span class="t body R" style="right:333.7px;top:0">2</span><span class="t body R" style="right:279.9px;top:0">16</span><span class="t body R" style="right:225.9px;top:0">6</span><span class="t body R" style="right:167.2px;top:0">17</span><span class="t body R" style="right:113.1px;top:0">-</span><span class="t body R" style="right:43.3px;top:0">-</span></div>
<div class="r" style="top:732px"><span class="t body L" style="left:7px;top:0">Guam</span><span class="t body R" style="right:559px;top:0">-</span><span class="t body R" style="right:505px;top:0">-</span><span class="t body R" style="right:446.6px;top:0">-</span><span class="t body R" style="right:395px;top:0">-</span><span class="t body R" style="right:333.7px;top:0">-</span><span class="t body R" style="right:279.9px;top:0">1</span><span class="t body R" style="right:225.9px;top:0">-</span><span class="t body R" style="right:167.2px;top:0">-</span><span class="t body R" style="right:113.1px;top:0">-</span><span class="t body R" style="right:43.3px;top:0">-</span></div>
<div class="r" style="top:742px"><span class="t body L" style="left:7px;top:0">P.R.</span><span class="t body R" style="right:559px;top:0">-</span><span class="t body R" style="right:505px;top:0">1</span><span class="t body R" style="right:446.6px;top:0">-</span><span class="t body R" style="right:395px;top:0">-</span><span class="t body R" style="right:333.7px;top:0">87</span><span class="t body R" style="right:279.9px;top:0">174</span><span class="t body R" style="right:225.9px;top:0">75</span><span class="t body R" style="right:167.2px;top:0">218</span><span class="t body R" style="right:113.1px;top:0">-</span><span class="t body R" style="right:43.3px;top:0">1</span></div>
<div class="r" style="top:751px"><span class="t body L" style="left:7px;top:0">V.I.</span><span class="t body R" style="right:559px;top:0">-</span><span class="t body R" style="right:505px;top:0">-</span><span class="t body R" style="right:446.6px;top:0">-</span><span class="t body R" style="right:395px;top:0">-</span><span class="t body R" style="right:333.7px;top:0">-</span><span class="t body R" style="right:279.9px;top:0">-</span><span class="t body R" style="right:225.9px;top:0">-</span><span class="t body R" style="right:167.2px;top:0">-</span><span class="t body R" style="right:113.1px;top:0">-</span><span class="t body R" style="right:43.3px;top:0">-</span></div>
<div class="r" style="top:761px"><span class="t body L" style="left:7px;top:0">Amer. Samoa</span><span class="t body R" style="right:559px;top:0">U</span><span class="t body R" style="right:505px;top:0">U</span><span class="t body R" style="right:446.6px;top:0">U</span><span class="t body R" style="right:395px;top:0">U</span><span class="t body R" style="right:333.7px;top:0">U</span><span class="t body R" style="right:279.9px;top:0">U</span><span class="t body R" style="right:225.9px;top:0">U</span><span class="t body R" style="right:167.2px;top:0">U</span><span class="t body R" style="right:113.1px;top:0">U</span><span class="t body R" style="right:43.3px;top:0">U</span></div>
<div class="r" style="top:770px"><span class="t body L" style="left:7px;top:0">C.N.M.I.</span><span class="t body R" style="right:559px;top:0">-</span><span class="t body R" style="right:505px;top:0">U</span><span class="t body R" style="right:446.6px;top:0">-</span><span class="t body R" style="right:395px;top:0">U</span><span class="t body R" style="right:333.7px;top:0">-</span><span class="t body R" style="right:279.9px;top:0">U</span><span class="t body R" style="right:225.9px;top:0">37</span><span class="t body R" style="right:167.2px;top:0">U</span><span class="t body R" style="right:113.1px;top:0">-</span><span class="t body R" style="right:43.3px;top:0">U</span></div>
<div class="t f1 L" style="left:7px;top:781px">N: Not notifiable.</div>
<div class="t f1 L" style="left:102px;top:781px">U: Unavailable.</div>
<div class="t f1 L" style="left:188px;top:781px">-: No reported cases.</div>
<div class="t f2 L" style="left:9.5px;top:789px">*</div>
<div class="t f2 L" style="left:16.25px;top:789px">Incidence data for reporting year 2001 and 2002 are provisional and cumulative (year-to-date).</div>
</div></body></html>
